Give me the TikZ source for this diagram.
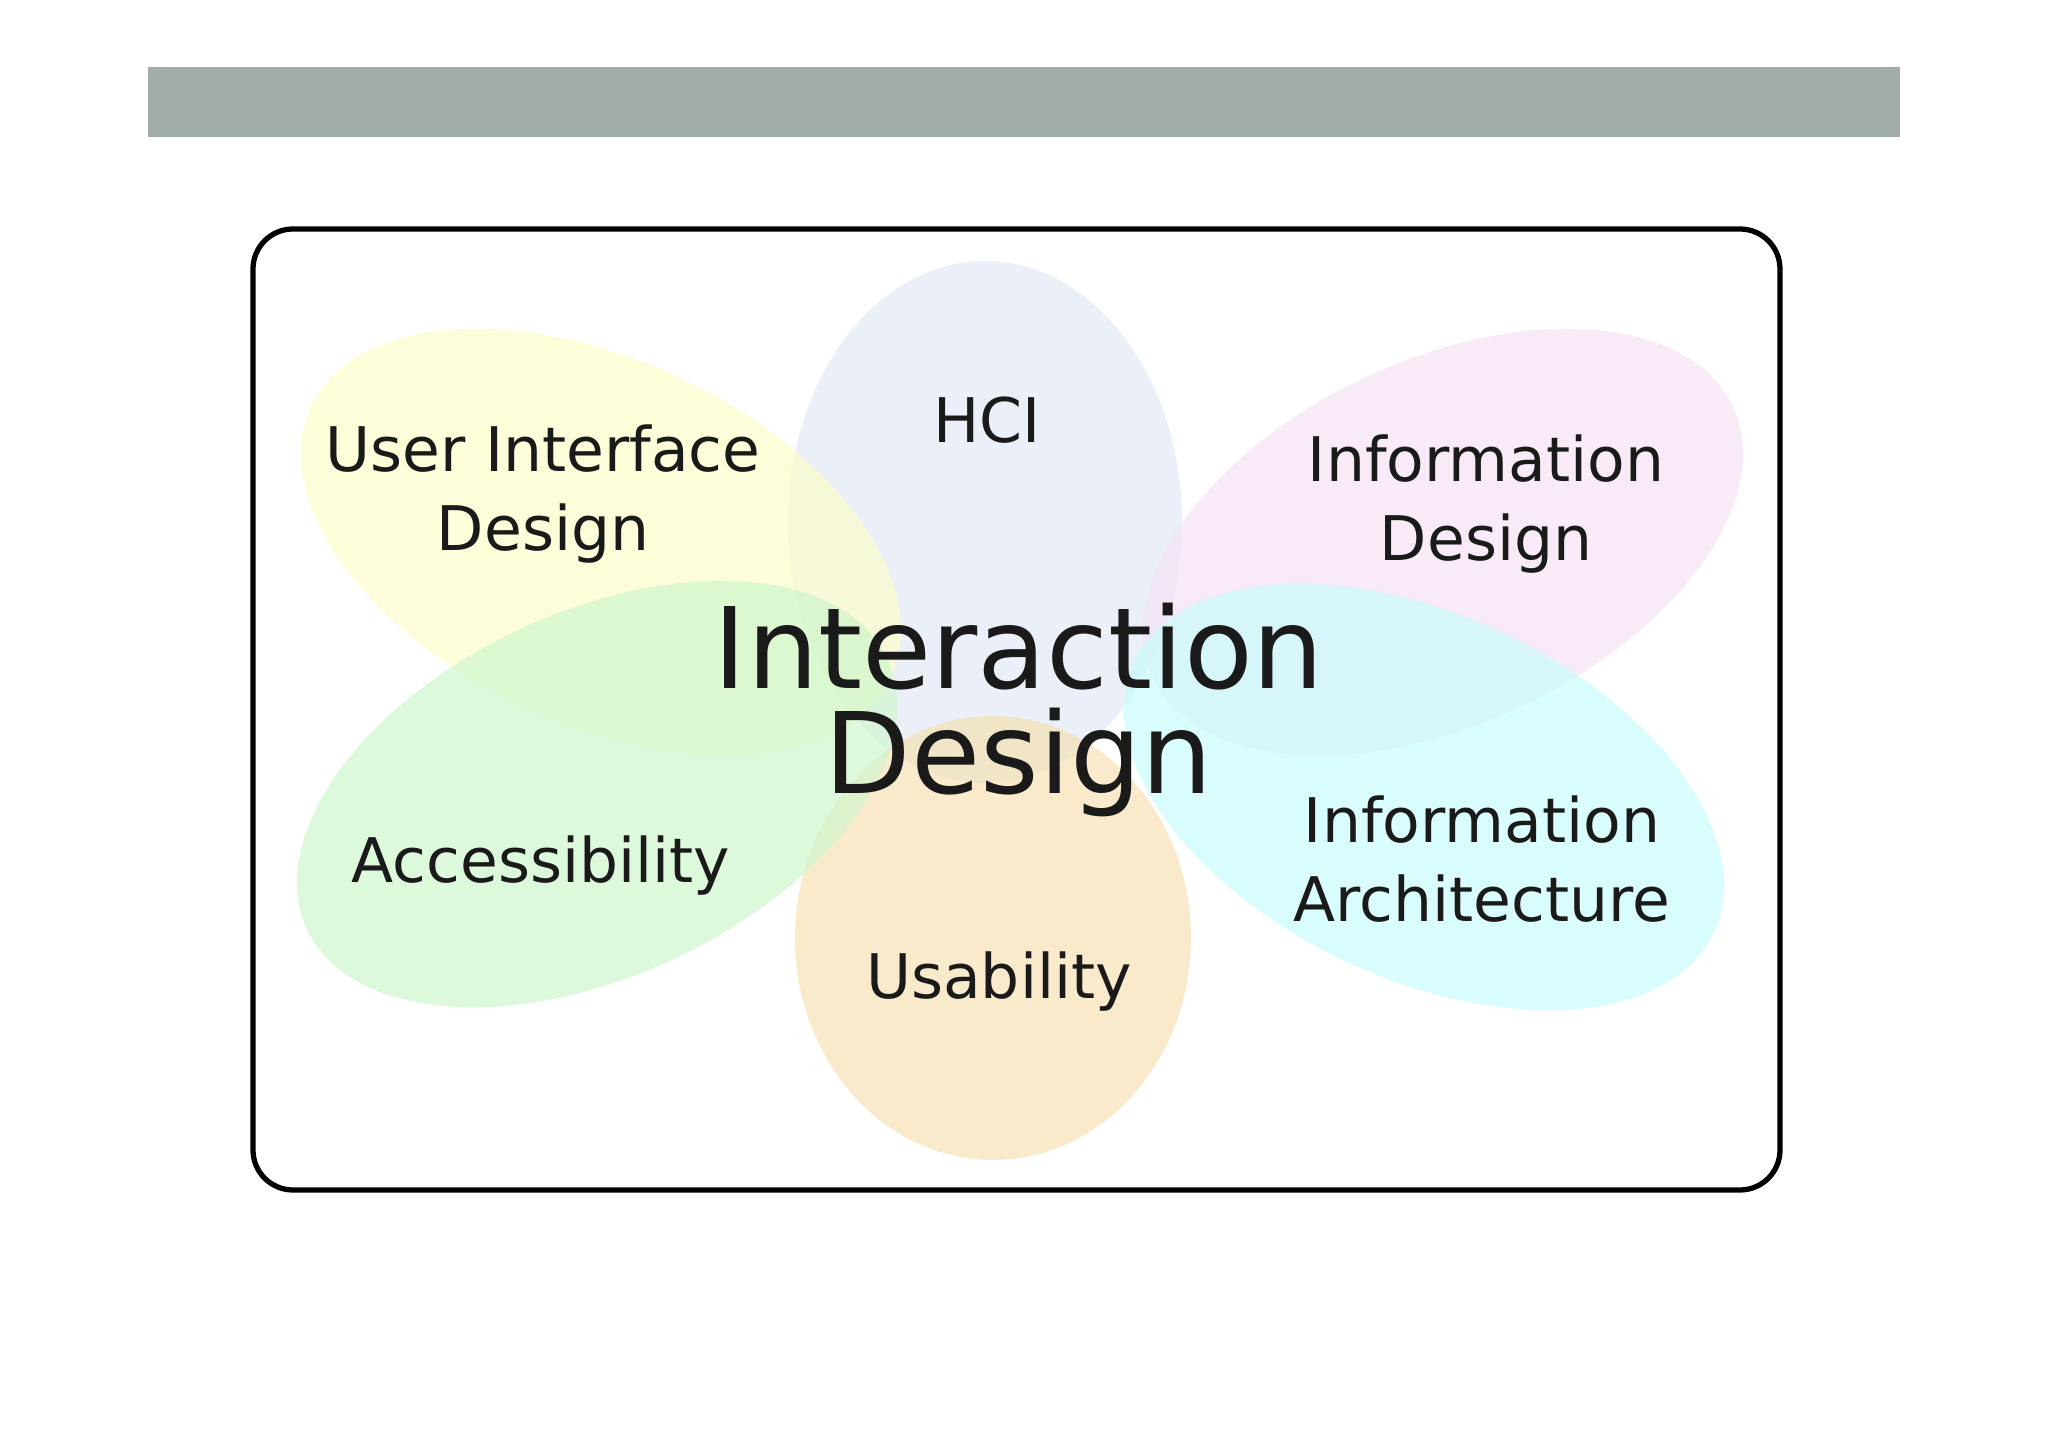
\documentclass[tikz,border=0pt]{standalone}
\usepackage{fontspec}
\setmainfont{DejaVu Sans}
\usepackage{tikz}

\begin{document}
\begin{tikzpicture}

% Colori pastello
\definecolor{colBar}{HTML}{A2ACA8}
\definecolor{colUI}{HTML}{FCFCCA}
\definecolor{colHCI}{HTML}{E3E9F5}
\definecolor{colInfo}{HTML}{F5E3F4}
\definecolor{colAcc}{HTML}{CFF6CD}
\definecolor{colArch}{HTML}{C9FBFB}
\definecolor{colUsa}{HTML}{F5E1B3}
\definecolor{colText}{HTML}{1A1A1A}

\tikzset{
  petal/.style={fill opacity=0.7, draw=none},
  lbl/.style={font=\fontsize{17.5}{22.5}\selectfont, align=center, text=colText},
  core/.style={font=\fontsize{32}{30}\selectfont, align=center, text=colText}
}

\useasboundingbox (0,0) rectangle (20.48,-14.47);

% Barra del titolo
\fill[colBar] (1.48,-0.67) rectangle (19.00,-1.37);

% Cornice
\draw[line width=1.5pt, rounded corners=0.4cm] (2.53,-2.29) rectangle (17.80,-11.90);

% Petali
\path[petal, fill=colHCI] (9.85,-5.22) ellipse[x radius=1.97, y radius=2.61];
\path[petal, fill=colUsa] (9.93,-9.38) ellipse[x radius=1.98, y radius=2.22];
\path[petal, fill=colUI, rotate around={-25:(6.01,-5.42)}]
  (6.01,-5.42) ellipse[x radius=3.20, y radius=1.82];
\path[petal, fill=colInfo, rotate around={25:(14.43,-5.42)}]
  (14.43,-5.42) ellipse[x radius=3.20, y radius=1.82];
\path[petal, fill=colAcc, rotate around={25:(5.97,-7.94)}]
  (5.97,-7.94) ellipse[x radius=3.20, y radius=1.82];
\path[petal, fill=colArch, rotate around={-25:(14.24,-7.97)}]
  (14.24,-7.97) ellipse[x radius=3.20, y radius=1.82];

% Etichette
\node[lbl] (ui) at (5.43,-4.94) {User Interface\\Design};
\node[lbl] (hci) at (9.87,-4.20) {HCI};
\node[lbl] (info) at (14.86,-5.04) {Information\\Design};
\node[lbl] (acc) at (5.41,-8.66) {Accessibility};
\node[lbl] (usa) at (9.99,-9.82) {Usability};
\node[lbl] (arch) at (14.82,-8.59) {Information\\Architecture};

% Centro
\node[core] (ixd) at (10.19,-7.10) {Interaction\\Design};

\end{tikzpicture}
\end{document}
